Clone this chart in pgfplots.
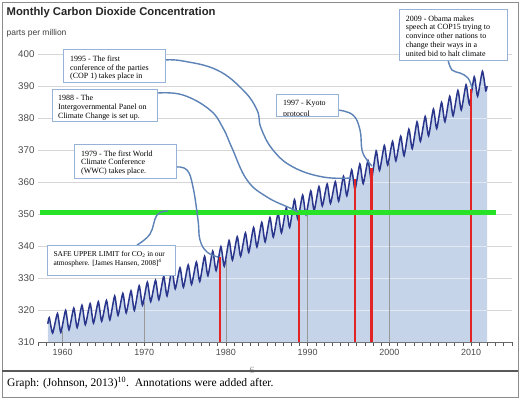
\documentclass[border=0pt]{standalone}
\usepackage{fontspec}
\setmainfont{Liberation Sans}
\newfontfamily\serifb{Liberation Serif}
\usepackage{pgfplots}
\usepackage{pgfplotstable}
\pgfplotsset{compat=1.18}
\definecolor{co2line}{RGB}{42,54,140}
\definecolor{co2fill}{RGB}{198,212,234}
\definecolor{redl}{RGB}{226,36,36}
\definecolor{greenl}{RGB}{40,226,40}
\definecolor{conn}{RGB}{92,130,182}
\definecolor{boxb}{RGB}{150,178,214}
\definecolor{lgrid}{RGB}{226,233,243}

\pgfplotstableread{
x y
1958.20 315.7
1958.38 317.6
1958.79 312.8
1959.38 318.9
1959.79 313.0
1960.38 319.9
1960.79 313.8
1961.38 320.6
1961.79 314.5
1962.38 321.5
1962.79 315.4
1963.38 322.0
1963.79 315.9
1964.38 322.6
1964.79 316.5
1965.38 323.0
1965.79 316.9
1966.38 324.4
1966.79 318.3
1967.38 325.2
1967.79 319.1
1968.38 326.0
1968.79 319.9
1969.38 327.6
1969.79 321.5
1970.38 328.7
1970.79 322.6
1971.38 329.3
1971.79 323.2
1972.38 330.5
1972.79 324.4
1973.38 332.7
1973.79 326.6
1974.38 333.2
1974.79 327.1
1975.38 334.1
1975.79 328.0
1976.38 335.0
1976.79 328.9
1977.38 336.8
1977.79 330.7
1978.38 338.4
1978.79 332.3
1979.38 339.8
1979.79 333.7
1980.38 341.7
1980.79 335.6
1981.38 342.9
1981.79 336.8
1982.38 344.1
1982.79 338.0
1983.38 345.8
1983.79 339.7
1984.38 347.4
1984.79 341.3
1985.38 348.9
1985.79 342.8
1986.38 350.2
1986.79 344.1
1987.38 351.9
1987.79 345.8
1988.38 354.5
1988.79 348.4
1989.38 355.9
1989.79 349.8
1990.38 357.2
1990.79 351.1
1991.38 358.6
1991.79 352.5
1992.38 359.4
1992.79 353.3
1993.38 360.1
1993.79 354.0
1994.38 361.8
1994.79 355.7
1995.38 363.8
1995.79 357.7
1996.38 365.6
1996.79 359.5
1997.38 366.7
1997.79 360.6
1998.38 369.7
1998.79 363.6
1999.38 371.4
1999.79 365.3
2000.38 372.7
2000.79 366.6
2001.38 374.3
2001.79 368.2
2002.38 376.5
2002.79 370.4
2003.38 378.8
2003.79 372.7
2004.38 380.5
2004.79 374.4
2005.38 382.8
2005.79 376.7
2006.38 384.9
2006.79 378.8
2007.38 386.8
2007.79 380.7
2008.38 388.6
2008.79 382.5
2009.38 390.4
2009.79 384.3
2010.38 392.9
2010.79 386.8
2011.38 394.6
2011.79 388.5
2011.95 390.0
}\cotwo

\begin{document}
\begin{tikzpicture}
\begin{scope}[x=1bp,y=-1bp]
\path[use as bounding box, fill=white] (0,0) rectangle (520,399);
\end{scope}

\begin{axis}[
  at={(38bp,-342bp)}, anchor=south west,
  scale only axis, width=474bp, height=288bp,
  xmin=1957, xmax=2015, ymin=310, ymax=400,
  axis x line*=bottom, axis y line*=left,
  x axis line style={-, draw=black!60, line width=0.8pt},
  y axis line style={draw=none},
  xtick={1960,1970,...,2010},
  minor xtick={1957,...,2015},
  ytick={310,320,...,400},
  ytick style={draw=none},
  xtick style={draw=black!65, line width=0.6pt},
  minor tick style={draw=black!65, line width=0.6pt},
  tick align=outside,
  major tick length=3.5bp, minor tick length=3.5bp,
  ymajorgrids, grid style={draw=black!16, line width=0.8pt},
  xticklabel style={font=\fontsize{9}{9}\selectfont, text=black!70},
  yticklabel style={font=\fontsize{9.8}{10}\selectfont, text=black!70, xshift=3.5bp},
  /pgf/number format/1000 sep={},
  /pgf/number format/assume math mode=true,
]
% filled area under the curve
\addplot[draw=none, fill=co2fill, smooth, tension=0.35] table[x=x,y=y]{\cotwo} \closedcycle;
% light grid lines inside the fill
\addplot[lgrid, line width=0.8pt] coordinates {(1965.0,320) (2011.95,320)};
\addplot[lgrid, line width=0.8pt] coordinates {(1973.6,330) (2011.95,330)};
\addplot[lgrid, line width=0.8pt] coordinates {(1981.6,340) (2011.95,340)};
\addplot[lgrid, line width=0.8pt] coordinates {(1987.8,350) (2011.95,350)};
\addplot[lgrid, line width=0.8pt] coordinates {(1994.6,360) (2011.95,360)};
\addplot[lgrid, line width=0.8pt] coordinates {(2000.2,370) (2011.95,370)};
\addplot[lgrid, line width=0.8pt] coordinates {(2005.3,380) (2011.95,380)};
\addplot[lgrid, line width=0.8pt] coordinates {(2010.3,390) (2011.95,390)};
% decade lines inside the fill
\addplot[black!40, line width=0.7pt] coordinates {(1960,310) (1960,313.5)};
\addplot[black!40, line width=0.7pt] coordinates {(1970,310) (1970,322.5)};
\addplot[black!40, line width=0.7pt] coordinates {(1980,310) (1980,335.5)};
\addplot[black!40, line width=0.7pt] coordinates {(1990,310) (1990,350.3)};
\addplot[black!40, line width=0.7pt] coordinates {(2000,310) (2000,366.0)};
% the curve
\addplot[co2line, line width=1.5bp, smooth, tension=0.35] table[x=x,y=y]{\cotwo};
% red event lines
\addplot[redl, line width=2.4bp] coordinates {(1979.3,310) (1979.3,336.6)};
\addplot[redl, line width=2.4bp] coordinates {(1988.9,310) (1988.9,350.5)};
\addplot[redl, line width=2.4bp] coordinates {(1995.8,310) (1995.8,361.0)};
\addplot[redl, line width=2.4bp] coordinates {(1997.8,310) (1997.8,364.4)};
\addplot[redl, line width=2.4bp] coordinates {(2010.0,310) (2010.0,389.0)};
% safe upper limit
\addplot[greenl, line width=5bp] coordinates {(1957.2,350.6) (2013.0,350.6)};
\end{axis}

\begin{scope}[x=1bp,y=-1bp]
% frames
\draw[black!45, line width=0.8bp] (2,2) rectangle (518,397);
\node[text=black!45, inner sep=0, anchor=base, font=\serifb\fontsize{9.5}{10}\selectfont] at (252,373.5) {6};
\draw[black!65, line width=1.3bp] (2,371) -- (518,371);
% titles
\node[anchor=base west, inner sep=0, text=black!85, font=\bfseries\fontsize{11.3}{12}\selectfont] at (6.5,15) {Monthly Carbon Dioxide Concentration};
\node[anchor=base west, inner sep=0, text=black!75, font=\fontsize{8.5}{9}\selectfont] at (6.5,35.5) {parts per million};
\node[anchor=base west, inner sep=0, font=\serifb\fontsize{11.6}{12}\selectfont] at (7,386.5) {Graph: (Johnson, 2013)\textsuperscript{10}.\ \ Annotations were added after.};

% connectors
\begin{scope}[conn, line width=1.4bp]
\draw plot[smooth, tension=0.7] coordinates {(165,60) (183,61) (217,70) (243,90) (257,110) (261,128) (273,150) (293,167) (323,177) (351,178)};
\draw plot[smooth, tension=0.7] coordinates {(158,93) (183,95) (210,110) (223,128) (232,148) (247,180) (267,197) (290,208) (298,212)};
\draw plot[smooth, tension=0.7] coordinates {(338,110) (353,115) (360,130) (362,150) (367,160) (372,166)};
\draw plot[smooth, tension=0.7] coordinates {(448,60) (452,70) (460,73) (468,78) (472,88)};
\draw plot[smooth, tension=0.7] coordinates {(176,167) (187,170) (193,187) (198,220) (200,240) (207,252) (218,257)};
\draw plot[smooth, tension=0.7] coordinates {(137,245) (150,234) (157,215) (168,211)};
\end{scope}

% boxes
\begin{scope}[every node/.style={anchor=base west, inner sep=0, font=\serifb\fontsize{8}{9}\selectfont}]
\draw[boxb, fill=white, line width=0.8bp] (63,49) rectangle (165,82);
\node at (70,61) {1995 - The first};
\node at (70,70) {conference of the parties};
\node at (70,78.5) {(COP 1) takes place in};

\draw[boxb, fill=white, line width=0.8bp] (52,89) rectangle (157,121);
\node at (58,100.5) {1988 - The};
\node at (58,109.5) {Intergovernmental Panel on};
\node at (58,118) {Climate Change is set up.};

\draw[boxb, fill=white, line width=0.8bp] (74,144) rectangle (176,178);
\node at (81,156) {1979 - The first World};
\node at (81,164.7) {Climate Conference};
\node at (81,173.3) {(WWC) takes place.};

\draw[boxb, fill=white, line width=0.8bp] (276,94) rectangle (338,116);
\begin{scope}
\clip (276.5,94.5) rectangle (337.5,115.6);
\node at (283,105.7) {1997 - Kyoto};
\node at (283,116.5) {protocol};
\end{scope}

\draw[boxb, fill=white, line width=0.8bp] (399,9) rectangle (507,60);
\node at (405.7,21) {2009 - Obama makes};
\node at (405.7,29.7) {speech at COP15 trying to};
\node at (405.7,38.3) {convince other nations to};
\node at (405.7,47.3) {change their ways in a};
\node at (405.7,56) {united bid to halt climate};

\draw[boxb, fill=white, line width=0.8bp] (47,245) rectangle (175,275);
\node[font=\serifb\fontsize{7.5}{8}\selectfont] at (53.3,256) {SAFE UPPER LIMIT for CO\textsubscript{2} in our};
\node[font=\serifb\fontsize{7.5}{8}\selectfont] at (53.3,265) {atmosphere. [James Hansen, 2008]\textsuperscript{4}};
\end{scope}
\end{scope}
\end{tikzpicture}
\end{document}
